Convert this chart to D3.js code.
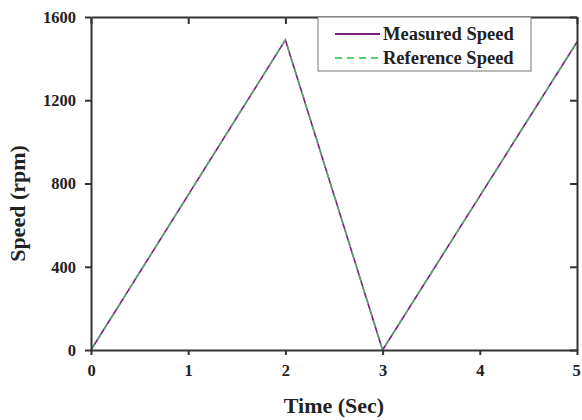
<!DOCTYPE html>
<html>
<head>
<meta charset="utf-8">
<script src="https://cdn.jsdelivr.net/npm/d3@7"></script>
<style>
  html, body { margin: 0; padding: 0; background: #fff; }
  svg { display: block; }
</style>
</head>
<body>
<script>
// Speed profile: time (s) against speed (rpm)
const timeSec = [0, 2, 3, 5];
const measuredSpeed = [0, 1490, 0, 1480];
const referenceSpeed = [0, 1490, 0, 1480];
const xTicks = [0, 1, 2, 3, 4, 5];
const yTicks = [0, 400, 800, 1200, 1600];
const seriesNames = ["Measured Speed", "Reference Speed"];

const W = 582, H = 420;
const m = { left: 91, right: 5, top: 17, bottom: 70 };
const font = "'Liberation Serif', 'Times New Roman', serif";
const axisColor = "#333";

const svg = d3.select("body").append("svg").attr("width", W).attr("height", H);

const x = d3.scaleLinear().domain([0, 5]).range([m.left, W - m.right]);
const y = d3.scaleLinear().domain([0, 1600]).range([H - m.bottom, m.top]);

// data lines
const line = d3.line().x((d, i) => x(timeSec[i])).y(d => y(d));
svg.append("path").datum(measuredSpeed)
  .attr("d", line).attr("fill", "none")
  .attr("stroke", "#7a1f7a").attr("stroke-width", 1.6);
svg.append("path").datum(referenceSpeed)
  .attr("d", line).attr("fill", "none")
  .attr("stroke", "#4fd36a").attr("stroke-width", 1.6)
  .attr("stroke-dasharray", "7,5").attr("opacity", 0.75);

// axes
function styleAxis(g) {
  g.selectAll(".domain").attr("stroke", axisColor).attr("stroke-width", 2);
  g.selectAll(".tick line").attr("stroke", axisColor).attr("stroke-width", 2);
  g.selectAll(".tick text").attr("font-family", font).attr("font-weight", "bold")
    .attr("font-size", 16.5).attr("fill", "#222");
}
svg.append("g").attr("transform", `translate(0,${y(0)})`)
  .call(d3.axisBottom(x).tickValues(xTicks).tickSize(5).tickSizeOuter(0)
    .tickPadding(9).tickFormat(d3.format("d")))
  .call(styleAxis)
  .call(g => g.selectAll(".tick").filter(d => d === 5).select("text").attr("dx", -1));
svg.append("g").attr("transform", `translate(${x(0)},0)`)
  .call(d3.axisLeft(y).tickValues(yTicks).tickSize(6).tickSizeOuter(0)
    .tickPadding(9).tickFormat(d3.format("d")))
  .call(styleAxis);
svg.append("g").attr("transform", `translate(0,${y(1600)})`)
  .call(d3.axisTop(x).tickValues(xTicks).tickSize(-7).tickSizeOuter(0).tickFormat(""))
  .call(styleAxis);
svg.append("g").attr("transform", `translate(${x(5)},0)`)
  .call(d3.axisRight(y).tickValues(yTicks).tickSize(-7).tickSizeOuter(0).tickFormat(""))
  .call(styleAxis);

// axis titles
svg.append("text").attr("x", 334).attr("y", 413)
  .attr("text-anchor", "middle").attr("font-family", font).attr("font-weight", "bold")
  .attr("font-size", 22).attr("fill", "#222").text("Time (Sec)");
svg.append("text").attr("transform", `translate(25,${(y(0) + y(1600)) / 2 + 20}) rotate(-90)`)
  .attr("text-anchor", "middle").attr("font-family", font).attr("font-weight", "bold")
  .attr("font-size", 22).attr("fill", "#222").text("Speed (rpm)");

// legend
const lg = svg.append("g").attr("transform", "translate(318,17)");
lg.append("rect").attr("width", 213).attr("height", 54)
  .attr("fill", "#fff").attr("stroke", "#777").attr("stroke-width", 1);
const legendStyles = [
  { color: "#7a1f7a", dash: null },
  { color: "#4fd36a", dash: "7,5" }
];
seriesNames.forEach((name, i) => {
  const yy = 17 + i * 24;
  lg.append("line").attr("x1", 17).attr("x2", 62).attr("y1", yy).attr("y2", yy)
    .attr("stroke", legendStyles[i].color).attr("stroke-width", 2)
    .attr("stroke-dasharray", legendStyles[i].dash);
  lg.append("text").attr("x", 65).attr("y", yy + 6)
    .attr("font-family", font).attr("font-weight", "bold").attr("font-size", 18.5)
    .attr("fill", "#222").text(name);
});
</script>
</body>
</html>
